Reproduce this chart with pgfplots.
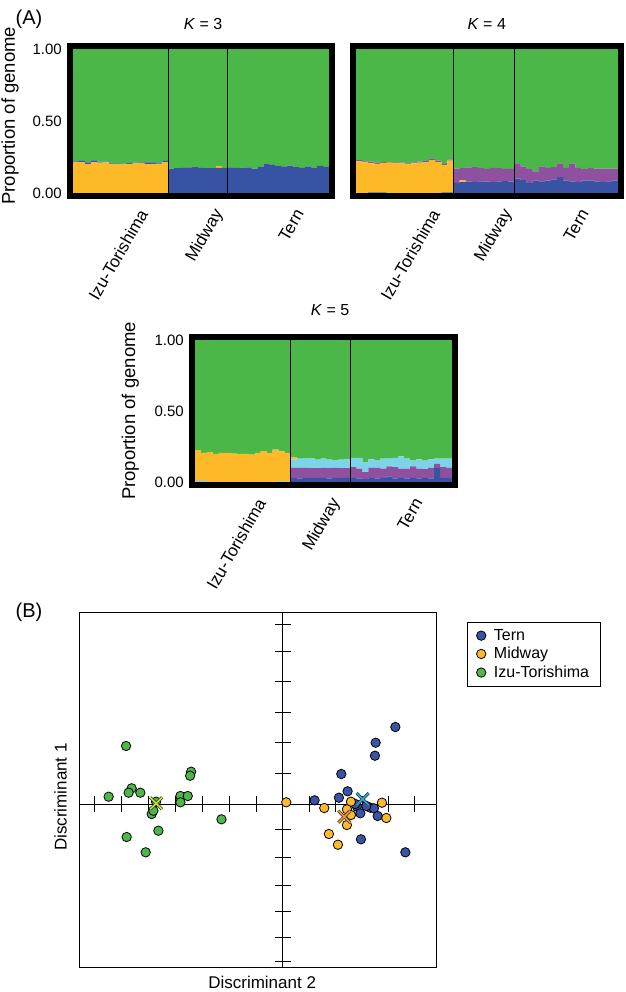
\documentclass[border=0pt]{standalone}
\usepackage{fontspec}
\setmainfont{Liberation Sans}
\usepackage{pgfplots}
\pgfplotsset{compat=1.18}
\usepackage{pgfplotstable}

\definecolor{sgreen}{RGB}{76,183,73}
\definecolor{syellow}{RGB}{253,185,39}
\definecolor{sblue}{RGB}{57,83,164}
\definecolor{spurple}{RGB}{143,80,160}
\definecolor{scyan}{RGB}{125,211,232}
\definecolor{dblue}{RGB}{58,84,165}
\definecolor{dyellow}{RGB}{252,185,44}
\definecolor{dgreen}{RGB}{77,183,73}
\definecolor{cgreen}{RGB}{200,230,40}
\definecolor{corange}{RGB}{240,150,40}
\definecolor{cblue}{RGB}{40,165,222}

% K = 3 : x, yellow(below), blue, yellow(above), green
\pgfplotstableread{
x ya b yb g
0 0.215 0.005 0 0.780
1 0.215 0.012 0 0.773
2 0.200 0.012 0 0.788
3 0.212 0.015 0 0.773
4 0.210 0.008 0 0.782
5 0.212 0.005 0 0.783
6 0.200 0.005 0 0.795
7 0.198 0.004 0 0.798
8 0.200 0.004 0 0.796
9 0.203 0.005 0 0.792
10 0.205 0.005 0 0.790
11 0.207 0.005 0 0.788
12 0.200 0.012 0 0.788
13 0.203 0.010 0 0.787
14 0.198 0.008 0 0.794
15 0.215 0.008 0 0.777
16 0 0.170 0 0.830
17 0 0.172 0 0.828
18 0 0.175 0 0.825
19 0 0.178 0 0.822
20 0 0.180 0 0.820
21 0 0.175 0 0.825
22 0 0.172 0 0.828
23 0 0.172 0 0.828
24 0 0.175 0.012 0.813
25 0 0.172 0 0.828
26 0 0.178 0 0.822
27 0 0.175 0 0.825
28 0 0.172 0 0.828
29 0 0.178 0 0.822
30 0 0.170 0 0.830
31 0 0.182 0 0.818
32 0 0.200 0 0.800
33 0 0.195 0 0.805
34 0 0.188 0 0.812
35 0 0.185 0 0.815
36 0 0.190 0 0.810
37 0 0.180 0 0.820
38 0 0.175 0 0.825
39 0 0.185 0 0.815
40 0 0.172 0 0.828
41 0 0.188 0 0.812
42 0 0.182 0 0.818
}\kthree

% K = 4 : x, blue, yellow, purple, green
\pgfplotstableread{
x b y p g
0 0 0.220 0.008 0.772
1 0 0.212 0.008 0.780
2 0.004 0.205 0.008 0.783
3 0.004 0.198 0.008 0.790
4 0.004 0.205 0.006 0.785
5 0 0.210 0.005 0.785
6 0 0.208 0.005 0.787
7 0 0.205 0.006 0.789
8 0 0.200 0.006 0.794
9 0 0.205 0.008 0.787
10 0 0.210 0.008 0.782
11 0 0.212 0.010 0.778
12 0 0.228 0.008 0.764
13 0 0.215 0.010 0.775
14 0.004 0.190 0.008 0.798
15 0.004 0.220 0.008 0.768
16 0.070 0 0.100 0.830
17 0.075 0.012 0.085 0.828
18 0.078 0 0.100 0.822
19 0.075 0 0.105 0.820
20 0.080 0 0.095 0.825
21 0.078 0 0.090 0.832
22 0.075 0 0.100 0.825
23 0.080 0 0.092 0.828
24 0.082 0 0.085 0.833
25 0.078 0 0.090 0.832
26 0.100 0 0.100 0.800
27 0.090 0 0.095 0.815
28 0.070 0 0.095 0.835
29 0.085 0 0.065 0.850
30 0.080 0 0.105 0.815
31 0.085 0 0.090 0.825
32 0.095 0 0.085 0.820
33 0.110 0 0.095 0.795
34 0.085 0 0.090 0.825
35 0.080 0 0.125 0.795
36 0.075 0 0.100 0.825
37 0.085 0 0.080 0.835
38 0.085 0 0.090 0.825
39 0.080 0 0.090 0.830
40 0.075 0 0.095 0.830
41 0.080 0 0.090 0.830
42 0.085 0 0.085 0.830
}\kfour

% K = 5 : x, blue, purple, cyan, yellow, green
\pgfplotstableread{
x b p c y g
0 0 0 0.008 0.217 0.775
1 0 0 0.008 0.197 0.795
2 0 0 0 0.210 0.790
3 0 0 0 0.198 0.802
4 0 0 0 0.205 0.795
5 0 0 0 0.205 0.795
6 0 0 0 0.200 0.800
7 0 0 0 0.198 0.802
8 0 0 0 0.198 0.802
9 0 0 0 0.193 0.807
10 0 0 0 0.205 0.795
11 0 0 0 0.218 0.782
12 0 0 0 0.205 0.795
13 0 0 0 0.228 0.772
14 0 0 0.008 0.207 0.785
15 0 0 0 0.205 0.795
16 0.030 0.070 0.060 0.015 0.825
17 0.025 0.075 0.065 0 0.835
18 0.030 0.070 0.065 0 0.835
19 0.028 0.070 0.070 0 0.832
20 0.030 0.068 0.060 0 0.842
21 0.030 0.070 0.065 0 0.835
22 0.025 0.072 0.060 0 0.843
23 0.030 0.070 0.055 0 0.845
24 0.028 0.070 0.060 0 0.842
25 0.030 0.068 0.065 0 0.837
26 0.030 0.075 0.065 0 0.830
27 0.025 0.070 0.075 0 0.830
28 0.020 0.050 0.070 0 0.860
29 0.030 0.070 0.060 0 0.840
30 0.025 0.075 0.050 0 0.850
31 0.030 0.065 0.070 0 0.835
32 0.040 0.070 0.055 0 0.835
33 0.025 0.080 0.065 0 0.830
34 0.030 0.065 0.085 0 0.820
35 0.025 0.070 0.070 0 0.835
36 0.030 0.080 0.040 0 0.850
37 0.025 0.070 0.065 0 0.840
38 0.030 0.060 0.060 0 0.850
39 0.025 0.075 0.060 0 0.840
40 0.098 0.030 0.037 0 0.835
41 0.030 0.075 0.060 0 0.835
42 0.030 0.070 0.065 0 0.835
}\kfive

\pgfplotsset{
  structplot/.style={
    scale only axis, anchor=south west,
    xmin=-1, xmax=43, ymin=-0.021, ymax=1.021,
    ybar stacked, bar width=1,
    axis on top,
    axis line style={line width=6pt, line join=miter, line cap=rect},
    tick style={draw=none},
    ytick={0,0.5,1}, yticklabels={0.00,0.50,1.00},
    xticklabels={Izu-Torishima,Midway,Tern},
    minor xtick={15.5,25.5}, xminorgrids=true,
    minor grid style={black, line width=1.3pt},
    xticklabel style={yshift=-14.7pt, rotate=60, anchor=east, inner sep=0pt, font=\fontsize{17}{20}\selectfont},
    yticklabel style={anchor=east, inner sep=0pt, xshift=-8pt, font=\fontsize{15}{18}\selectfont},
    /pgf/number format/assume math mode=true,
    title style={anchor=center, font=\fontsize{16}{19}\selectfont},
    every axis y label/.style={rotate=90, anchor=center, font=\fontsize{18.5}{22}\selectfont},
  },
}

\begin{document}
\begin{tikzpicture}[x=1pt,y=1pt]
\useasboundingbox (0,0) rectangle (625,-992);

\node[font=\fontsize{20}{24}\selectfont] at (29,-19) {(A)};
\node[font=\fontsize{20}{24}\selectfont] at (29,-612) {(B)};

% K = 3
\begin{axis}[structplot, at={(70pt,-196pt)}, width=262pt, height=150pt,
  xtick={11.34,24.1,37.55},
  title={\textit{K} = 3}, title style={at={(rel axis cs:0.508,1.107)}},
  ylabel={Proportion of genome}, ylabel style={at={(rel axis cs:-0.229,0.535)}}]
\addplot[fill=syellow, draw=none] table[x=x, y=ya] {\kthree};
\addplot[fill=sblue, draw=none] table[x=x, y=b] {\kthree};
\addplot[fill=syellow, draw=none] table[x=x, y=yb] {\kthree};
\addplot[fill=sgreen, draw=none] table[x=x, y=g] {\kthree};
\end{axis}

% K = 4
\begin{axis}[structplot, at={(353pt,-196pt)}, width=268pt, height=150pt,
  xtick={12.55,24.5,37.0}, ytick=\empty,
  title={\textit{K} = 4}, title style={at={(rel axis cs:0.499,1.107)}}]
\addplot[fill=sblue, draw=none] table[x=x, y=b] {\kfour};
\addplot[fill=syellow, draw=none] table[x=x, y=y] {\kfour};
\addplot[fill=spurple, draw=none] table[x=x, y=p] {\kfour};
\addplot[fill=sgreen, draw=none] table[x=x, y=g] {\kfour};
\end{axis}

% K = 5
\begin{axis}[structplot, at={(192pt,-485pt)}, width=263pt, height=148pt,
  xtick={10.63,23.18,36.85},
  title={\textit{K} = 5}, title style={at={(rel axis cs:0.525,1.142)}},
  ylabel={Proportion of genome}, ylabel style={at={(rel axis cs:-0.234,0.501)}}]
\addplot[fill=sblue, draw=none] table[x=x, y=b] {\kfive};
\addplot[fill=spurple, draw=none] table[x=x, y=p] {\kfive};
\addplot[fill=scyan, draw=none] table[x=x, y=c] {\kfive};
\addplot[fill=syellow, draw=none] table[x=x, y=y] {\kfive};
\addplot[fill=sgreen, draw=none] table[x=x, y=g] {\kfive};
\end{axis}

% DAPC scatter
\begin{axis}[at={(79pt,-967pt)}, anchor=south west, scale only axis,
  width=357pt, height=355pt,
  xmin=-203.3, xmax=153.3, ymin=-163, ymax=192,
  axis lines=middle, axis line style={-, black, line width=1pt},
  xtick={-187.5,-160.7,-134,-107.3,-80.3,-53.3,-26.5,26.7,53.3,79.5,105.5,131.7},
  ytick={-157,-133.3,-107.7,-81.7,-53,-25.3,30.3,61.3,91.3,122.3,153,180},
  xticklabels={}, yticklabels={},
  tick align=center, major tick length=16pt, tick style={black, line width=1pt},
  xlabel={Discriminant 2}, ylabel={Discriminant 1},
  every axis x label/.style={at={(rel axis cs:0.513,-0.042)}, anchor=center, font=\fontsize{17}{20}\selectfont},
  every axis y label/.style={at={(rel axis cs:-0.052,0.479)}, anchor=center, rotate=90, font=\fontsize{17}{20}\selectfont},
  clip=false,
  legend cell align=left,
  legend style={at={(rel axis cs:1.087,0.972)}, anchor=north west, draw=black, line width=0.9pt,
    font=\fontsize{16}{18}\selectfont, inner xsep=9pt, inner ysep=5pt, row sep=1.5pt,
    /tikz/every odd column/.append style={column sep=6pt}},
]
\draw[line width=1pt] (rel axis cs:0,0) rectangle (rel axis cs:1,1);
\addplot[only marks, mark=*, mark size=4.7pt, mark options={fill=dblue, draw=black, line width=0.8pt}] coordinates {
(32,3.7) (56.3,6.3) (65,12.7) (58.7,30) (92.3,48.3) (93,61.3) (112.7,77) (74.3,-2.7)
(77.7,-9.3) (87.7,-3.7) (91.3,-4.3) (95,-12) (78.3,-35.3) (122.7,-48.3) (72.7,0) (83.7,-2)};
\addlegendentry{Tern}
\addplot[only marks, mark=*, mark size=4.7pt, mark options={fill=dyellow, draw=black, line width=0.8pt}] coordinates {
(3.7,1.7) (41.7,-4) (68.3,2.3) (64.3,-5.3) (68.3,-11) (64.3,-21) (46.3,-30) (55.3,-40.7) (99.3,1.3) (103.7,-14)};
\addlegendentry{Midway}
\addplot[only marks, mark=*, mark size=4.7pt, mark options={fill=dgreen, draw=black, line width=0.8pt}] coordinates {
(-173.7,7.3) (-156.3,58) (-150.7,15.7) (-153.7,11.3) (-142,11.3) (-126.3,2.3) (-130.7,-10) (-129,-6.7)
(-124,-26.7) (-155.7,-33) (-136.7,-48.3) (-102,8) (-102,1.7) (-94.7,8) (-91.3,32.3) (-92.3,28.3) (-61,-15.3)};
\addlegendentry{Izu-Torishima}
% group centroids
\addplot[forget plot, only marks, mark=x, mark size=8.5pt, mark options={draw=black!80, line width=3pt}] coordinates {(-126.3,0.7) (61.7,-12.7) (80,5)};
\addplot[forget plot, only marks, mark=x, mark size=8.5pt, mark options={draw=cgreen, line width=1.6pt}] coordinates {(-126.3,0.7)};
\addplot[forget plot, only marks, mark=x, mark size=8.5pt, mark options={draw=corange, line width=1.6pt}] coordinates {(61.7,-12.7)};
\addplot[forget plot, only marks, mark=x, mark size=8.5pt, mark options={draw=cblue, line width=1.6pt}] coordinates {(80,5)};
\end{axis}
\end{tikzpicture}
\end{document}
